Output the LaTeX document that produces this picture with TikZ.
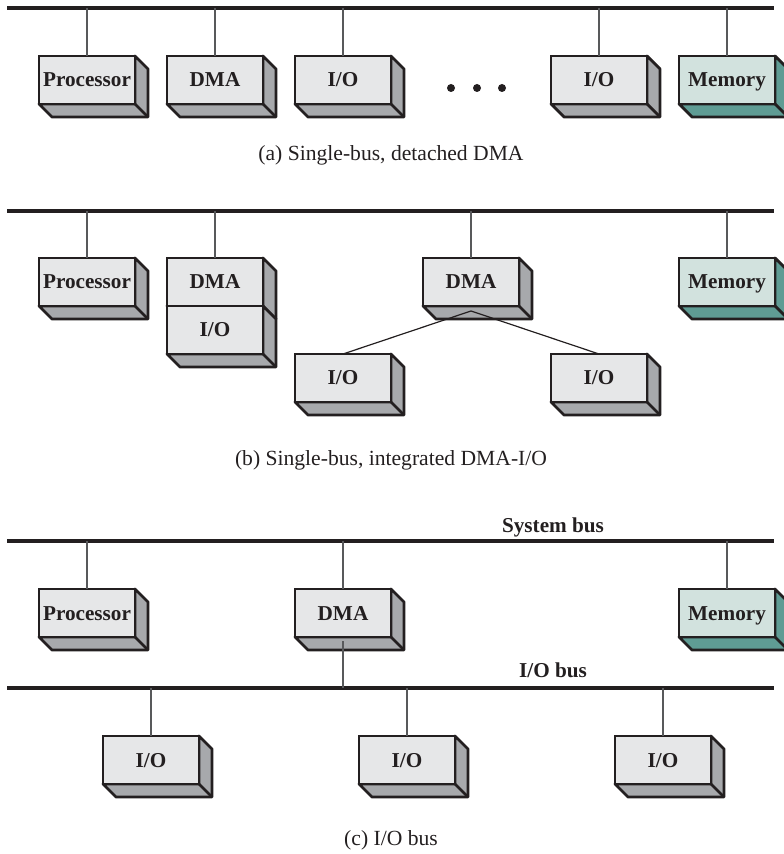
\documentclass[tikz,border=0pt]{standalone}
\usepackage{fontspec}
\setmainfont{Liberation Serif}
\usetikzlibrary{calc}

\definecolor{ink}{HTML}{231F20}
\definecolor{boxfront}{HTML}{E6E7E8}
\definecolor{boxside}{HTML}{A7A9AC}
\definecolor{memfront}{HTML}{D2E2DE}
\definecolor{memside}{HTML}{5F9C94}
\definecolor{tapgray}{HTML}{58595B}

\begin{document}
\begin{tikzpicture}[
        x=0.5pt, y=-0.5pt,
        unit/.style 2 args={rectangle,draw=ink,line width=1.4pt,fill=#1,
            minimum width=48pt,minimum height=24pt,inner sep=0pt,outer sep=0pt,
            text height=7pt,text depth=0pt,
            text=ink,font=\fontsize{10.6}{12}\selectfont\bfseries,
            append after command={\pgfextra{
                \filldraw[fill=#2,draw=ink,line width=1.4pt,line join=round]
                    (\tikzlastnode.south west) -- ++(13,13) -| ([shift={(13,13)}]\tikzlastnode.north east)
                    -- (\tikzlastnode.north east) -- (\tikzlastnode.south east) -- cycle;
                \draw[ink,line width=1.4pt] (\tikzlastnode.south east) -- ++(13,13);}}},
        io/.style={unit={boxfront}{boxside}},
        mem/.style={unit={memfront}{memside}},
        bus/.style={draw=ink,line width=1.6pt},
        tap/.style={draw=tapgray,line width=0.55pt},
        link/.style={draw=ink,line width=0.6pt},
        buslabel/.style={anchor=base,text=ink,font=\fontsize{10.6}{12}\selectfont\bfseries},
        caption/.style={text=ink,font=\fontsize{10.8}{13}\selectfont},
        ]
        \useasboundingbox (0,0) rectangle (783,854);

        % (a) single bus, detached DMA
        \coordinate (busA-w) at (7,8);
        \coordinate (busA-e) at (774,8);
        \draw[bus] (busA-w) -- (busA-e);
        \node[io](procA) at (87,80){Processor};
        \node[io](dmaA) at (215,80){DMA};
        \node[io](ioA1) at (343,80){I/O};
        \node[io](ioA2) at (599,80){I/O};
        \node[mem](memA) at (727,80){Memory};
        \foreach \n in {procA,dmaA,ioA1,ioA2,memA}
            \draw[tap] (\n.north) -- (\n.north |- busA-w);
        \foreach \x in {451,477,502}
            \fill[ink] (\x,88) circle[radius=2pt];
        \node[caption](capA) at (391,155){(a) Single-bus, detached DMA};

        % (b) single bus, integrated DMA-I/O
        \coordinate (busB-w) at (7,211);
        \coordinate (busB-e) at (774,211);
        \draw[bus] (busB-w) -- (busB-e);
        \node[io](procB) at (87,282){Processor};
        \node[io](dmaB1) at (215,282){DMA};
        \node[io](ioB1) at (215,330){I/O};
        \node[io](dmaB2) at (471,282){DMA};
        \node[mem](memB) at (727,282){Memory};
        \node[io](ioB2) at (343,378){I/O};
        \node[io](ioB3) at (599,378){I/O};
        \foreach \n in {procB,dmaB1,dmaB2,memB}
            \draw[tap] (\n.north) -- (\n.north |- busB-w);
        \coordinate (fork) at ([shift={(0,5)}]dmaB2.south);
        \draw[link] (fork) -- (ioB2.north) (fork) -- (ioB3.north);
        \node[caption](capB) at (391,460){(b) Single-bus, integrated DMA-I/O};

        % (c) separate I/O bus
        \coordinate (sysbus-w) at (7,541);
        \coordinate (sysbus-e) at (774,541);
        \draw[bus] (sysbus-w) -- (sysbus-e);
        \node[buslabel](sysbus-label) at (553,532){System bus};
        \node[io](procC) at (87,613){Processor};
        \node[io](dmaC) at (343,613){DMA};
        \node[mem](memC) at (727,613){Memory};
        \foreach \n in {procC,dmaC,memC}
            \draw[tap] (\n.north) -- (\n.north |- sysbus-w);
        \coordinate (iobus-w) at (7,688);
        \coordinate (iobus-e) at (774,688);
        \draw[bus] (iobus-w) -- (iobus-e);
        \node[buslabel](iobus-label) at (553,677){I/O bus};
        \coordinate (dmaC-tail) at ([shift={(0,4)}]dmaC.south);
        \draw[tap] (dmaC-tail) -- (dmaC-tail |- iobus-w);
        \node[io](ioC1) at (151,760){I/O};
        \node[io](ioC2) at (407,760){I/O};
        \node[io](ioC3) at (663,760){I/O};
        \foreach \n in {ioC1,ioC2,ioC3}
            \draw[tap] (\n.north) -- (\n.north |- iobus-w);
        \node[caption](capC) at (391,840){(c) I/O bus};

\end{tikzpicture}
\end{document}
